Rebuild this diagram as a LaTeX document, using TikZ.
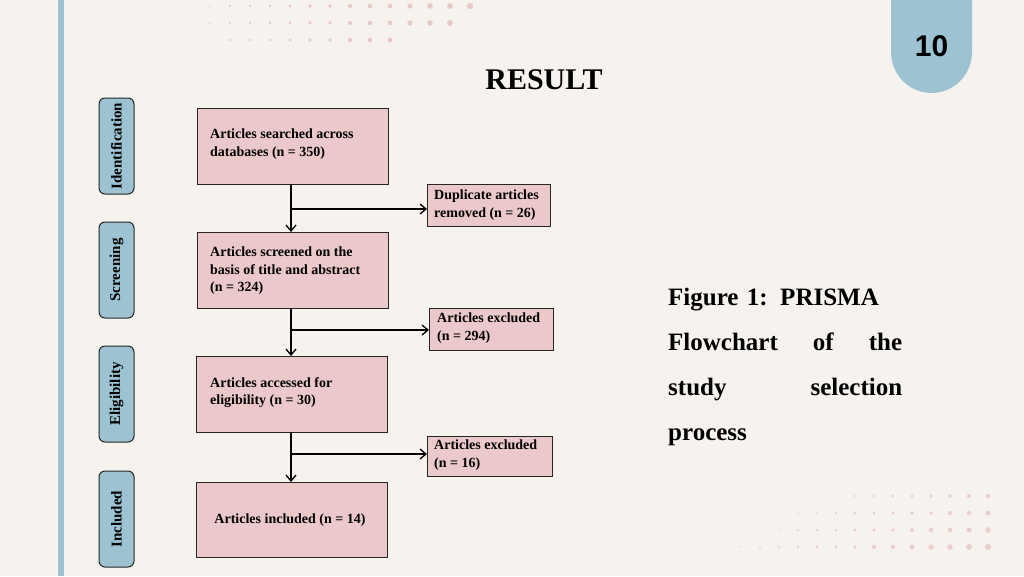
\documentclass[tikz,border=0pt]{standalone}
\usepackage{fontspec}
\setmainfont{Liberation Serif}
\newfontfamily\numfont{Liberation Sans}
\usetikzlibrary{arrows.meta}
\definecolor{bg}{HTML}{F6F3EE}
\definecolor{bluec}{HTML}{9DC3D2}
\definecolor{pinkc}{HTML}{EBC8CA}
\definecolor{dotc}{HTML}{E8C4C6}
\tikzset{
 main/.style={draw=black!85,line width=1pt,fill=pinkc,minimum width=191pt,minimum height=76pt,anchor=north west,inner sep=0pt},
 side/.style={draw=black!85,line width=1pt,fill=pinkc,minimum width=124pt,minimum height=42pt,anchor=north west,inner sep=0pt},
 txt/.style={font=\bfseries\fontsize{14}{17.5}\selectfont,align=left,inner sep=0pt},
 stage/.style={draw=black!85,line width=1pt,fill=bluec,rounded corners=6pt,minimum width=96pt,minimum height=35pt,rotate=90,inner sep=0pt,font=\bfseries\fontsize{15}{16}\selectfont},
 arr/.style={line width=1.3pt,-{Straight Barb[length=6pt,width=10pt]}}
}
\begin{document}
\begin{tikzpicture}[x=1pt,y=-1pt]
\fill[bg] (0,0) rectangle (1024,576);
\useasboundingbox (0,0) rectangle (1024,576);
\fill[bluec] (58,0) rectangle (64,576);
% dots
\foreach \r/\n in {0/16,1/15,2/12} {
  \foreach \i in {0,...,\n} {
    \pgfmathsetmacro{\rad}{0.4+0.17*\i}
    \fill[dotc,opacity=0.9] (150+20*\i, 6+17*\r) circle (\rad);
  }
}
\foreach \i in {0,...,8}{\fill[dotc,opacity=0.4] (190+20*\i,57) circle (0.6);}
\foreach \r in {0,...,3} {
  \foreach \i in {0,...,17} {
    \pgfmathsetmacro{\rad}{max(0.3,0.2+0.17*\i-0.3*(3-\r))}
    \fill[dotc,opacity=0.8] (665+19*\i, 496+17*\r) circle (\rad);
  }
}
% badge
\fill[bluec] (891,0) -- (891,52) arc[start angle=180,end angle=0,x radius=40.5,y radius=41] -- (972,0) -- cycle;
\node[font=\numfont\bfseries\fontsize{30}{30}\selectfont] (num) at (931.5,46) {10};
\node[font=\fontsize{30}{30}\selectfont\bfseries] (title) at (544,80) {RESULT};
% stages
\node[stage] (s1) at (116.5,146) {Identification};
\node[stage] (s2) at (116.5,270) {Screening};
\node[stage] (s3) at (116.5,394) {Eligibility};
\node[stage] (s4) at (116.5,519) {Included};
% main boxes
\node[main] (b1) at (197,108) {};
\node[txt,anchor=north west] at (210,129) {Articles searched across\\databases (n = 350)};
\node[main] (b2) at (197,232) {};
\node[txt,anchor=north west] at (210,247) {Articles screened on the\\basis of title and abstract\\(n = 324)};
\node[main] (b3) at (196,356) {};
\node[txt,anchor=north west] at (210,377) {Articles accessed for\\eligibility (n = 30)};
\node[main,minimum height=75pt] (b4) at (196,482) {};
\node[txt] at (290,520) {Articles included (n = 14)};
% side boxes
\node[side,minimum width=123pt] (d1) at (427,184) {};
\node[txt,anchor=north west] at (434,190) {Duplicate articles\\removed (n = 26)};
\node[side] (e1) at (429,308) {};
\node[txt,anchor=north west] at (437,313) {Articles excluded\\(n = 294)};
\node[side,minimum width=125pt,minimum height=40pt] (e2) at (427,436) {};
\node[txt,anchor=north west] at (434,440) {Articles excluded\\(n = 16)};
% arrows
\draw[arr] (b1.south -| 291,0) -- (b2.north -| 291,0);
\draw[arr] (b2.south -| 291,0) -- (b3.north -| 291,0);
\draw[arr] (b3.south -| 291,0) -- (b4.north -| 291,0);
\draw[arr] (291,209) -- (d1.west |- 0,209);
\draw[arr] (291,330) -- (e1.west |- 0,330);
\draw[arr] (291,454) -- (e2.west |- 0,454);
% caption
\node[font=\bfseries\fontsize{25}{45}\selectfont,text width=234pt,align=left,anchor=north west,inner sep=0pt] (cap) at (668,288)
 {Figure 1: PRISMA\\Flowchart\hfill of\hfill the\\study\hfill selection\\process};
\end{tikzpicture}
\end{document}
